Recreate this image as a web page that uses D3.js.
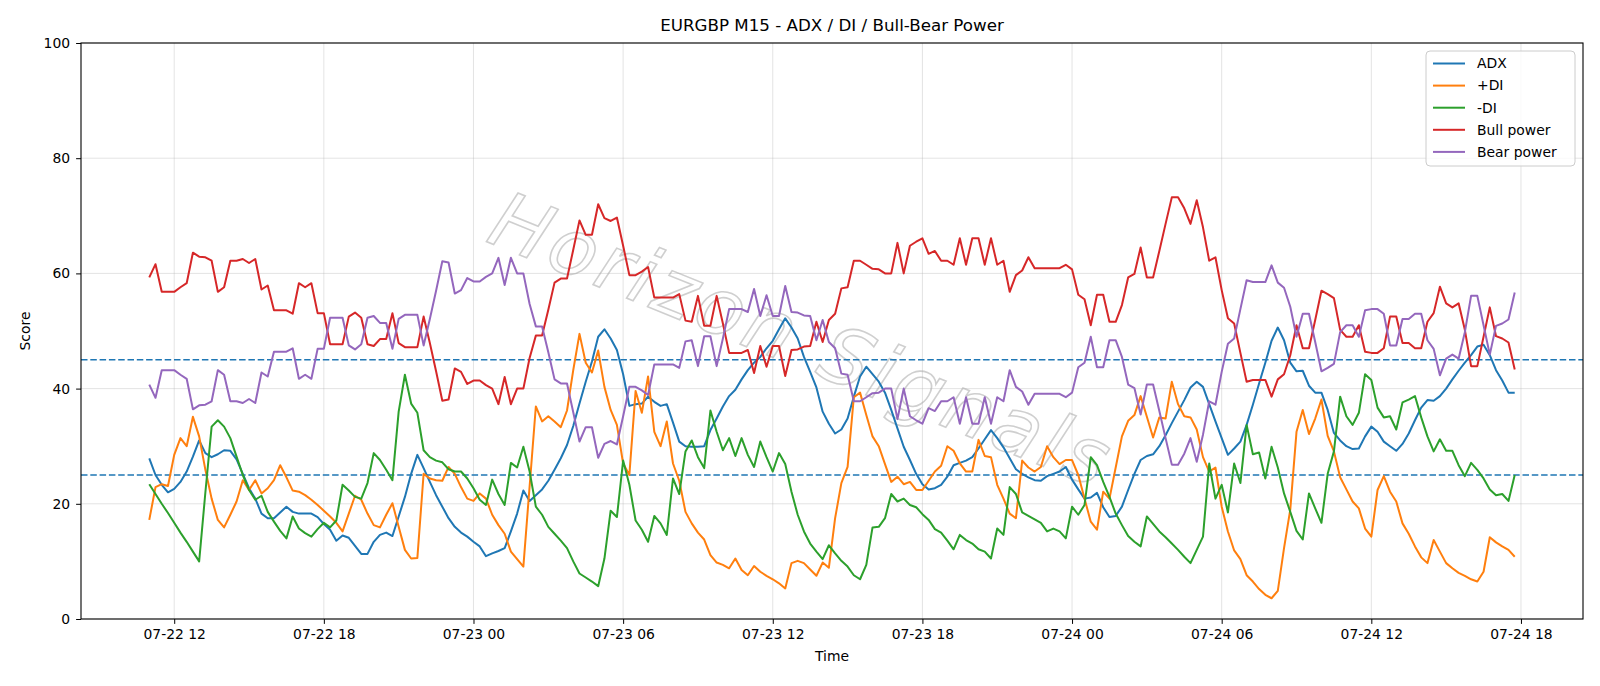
<!DOCTYPE html>
<html>
<head>
<meta charset="utf-8">
<script src="https://cdn.jsdelivr.net/npm/d3@7"></script>
<style>
    body { margin: 0; background: #fff; }
    svg { font-family: "DejaVu Sans", sans-serif; }
</style>
</head>
<body>
<svg id="chart" width="1600" height="686"></svg>
<script>
// first bar and bar length (M15)
const startTime = new Date(2025, 6, 22, 11, 0);
const barMinutes = 15;

const adx = [
    27.9, 25.0, 23.3, 22.0, 22.6, 23.8, 25.6, 28.2, 31.0, 28.8,
    28.1, 28.6, 29.3, 29.2, 27.7, 25.2, 22.7, 20.9, 18.3, 17.5,
    17.5, 18.5, 19.5, 18.6, 18.3, 18.3, 18.3, 17.7, 16.5, 15.5,
    13.6, 14.5, 14.1, 12.7, 11.3, 11.3, 13.4, 14.6, 15.0, 14.4,
    17.8, 21.2, 25.2, 28.5, 26.2, 23.8, 21.5, 19.5, 17.5, 16.0,
    15.0, 14.3, 13.4, 12.6, 10.9, 11.4, 11.8, 12.3, 15.2, 18.3,
    22.3, 20.5, 21.5, 22.5, 24.0, 25.9, 27.9, 30.2, 33.5, 37.4,
    41.2, 44.7, 49.0, 50.3, 48.7, 46.7, 42.5, 37.0, 37.3, 37.4,
    38.6, 37.7, 37.0, 37.3, 34.1, 30.8, 30.0, 29.9, 29.9, 30.0,
    32.8, 34.8, 36.9, 38.7, 39.8, 41.6, 43.2, 44.5, 45.5, 47.0,
    48.3, 50.3, 52.2, 50.6, 48.7, 45.5, 42.9, 40.2, 36.0, 33.9,
    32.2, 32.9, 34.8, 38.6, 42.1, 43.8, 42.5, 41.2, 39.3, 36.3,
    33.1, 29.9, 27.6, 25.2, 23.4, 22.5, 22.7, 23.3, 24.7, 26.7,
    27.1, 27.5, 28.1, 29.6, 31.2, 32.8, 31.4, 29.8, 27.9, 26.0,
    25.2, 24.6, 24.1, 24.0, 24.8, 25.2, 25.6, 26.4, 24.2, 22.5,
    20.9, 21.1, 21.9, 19.4, 17.7, 17.9, 19.5, 22.4, 25.2, 27.6,
    28.3, 28.6, 30.0, 31.9, 34.0, 36.0, 38.0, 40.2, 41.2, 40.3,
    37.3, 34.3, 31.4, 28.5, 29.6, 30.8, 33.7, 37.2, 40.9, 44.5,
    48.3, 50.6, 48.4, 44.5, 43.0, 43.1, 40.5, 39.3, 39.3, 36.3,
    32.3, 31.0, 30.0, 29.5, 29.6, 31.7, 33.4, 32.5, 30.8, 30.0,
    29.2, 30.4, 32.2, 34.5, 36.7, 38.0, 37.9, 38.7, 40.0, 41.6,
    43.1, 44.5, 45.8, 47.3, 47.6, 45.8, 43.2, 41.4, 39.3, 39.3
];

const plusDI = [
    17.2, 22.9, 23.4, 23.1, 28.5, 31.4, 30.0, 35.1, 31.7, 25.9,
    20.9, 17.2, 15.9, 18.1, 20.4, 24.1, 22.4, 24.1, 21.8, 22.7,
    24.1, 26.7, 24.6, 22.3, 22.1, 21.5, 20.7, 19.8, 18.8, 17.8,
    16.7, 15.2, 18.3, 21.4, 20.7, 18.3, 16.3, 15.9, 18.1, 20.1,
    16.0, 12.0, 10.5, 10.6, 25.2, 24.4, 24.1, 24.0, 26.4, 25.2,
    22.9, 20.9, 20.5, 21.8, 20.9, 18.1, 16.3, 14.8, 11.7, 10.4,
    9.1, 23.0, 36.9, 34.3, 35.2, 34.3, 33.3, 36.2, 43.2, 49.5,
    44.5, 42.8, 46.6, 40.3, 36.3, 33.7, 27.0, 25.0, 39.6, 35.8,
    42.1, 32.5, 30.0, 34.3, 27.0, 24.0, 18.6, 16.6, 15.0, 13.8,
    11.1, 9.8, 9.4, 8.8, 10.5, 8.5, 7.6, 9.2, 8.2, 7.5,
    6.9, 6.2, 5.3, 9.7, 10.1, 9.7, 8.6, 7.5, 9.8, 8.9,
    17.5, 23.6, 26.4, 38.5, 39.3, 35.4, 31.7, 30.0, 26.9, 23.8,
    24.7, 23.4, 23.8, 22.4, 22.4, 24.0, 25.6, 26.6, 30.0, 29.2,
    27.0, 25.6, 25.6, 31.1, 28.3, 28.1, 23.3, 20.9, 18.3, 17.5,
    27.5, 26.3, 25.6, 26.4, 30.0, 28.1, 26.9, 27.6, 27.6, 25.0,
    20.9, 16.9, 15.5, 22.1, 20.9, 26.3, 31.7, 34.4, 35.4, 38.7,
    35.1, 31.5, 35.0, 34.8, 41.2, 37.3, 35.2, 35.0, 32.9, 28.1,
    25.6, 26.3, 19.5, 15.2, 11.9, 10.4, 7.6, 6.5, 5.2, 4.2,
    3.6, 4.9, 12.3, 19.0, 32.5, 36.3, 32.1, 34.8, 38.1, 31.8,
    29.1, 24.6, 22.5, 20.4, 19.2, 15.7, 14.3, 22.4, 24.8, 22.1,
    20.4, 16.6, 14.8, 12.6, 10.7, 9.7, 13.7, 11.7, 9.7, 8.8,
    8.0, 7.5, 6.9, 6.5, 8.2, 14.2, 13.3, 12.6, 12.0, 10.8
];

const minusDI = [
    23.4, 21.7, 20.0, 18.4, 16.7, 15.0, 13.4, 11.7, 10.0, 22.0,
    33.4, 34.5, 33.4, 31.4, 28.2, 25.0, 22.4, 20.7, 21.4, 18.6,
    16.9, 15.3, 14.0, 17.8, 15.7, 14.9, 14.3, 15.6, 16.7, 15.9,
    17.1, 23.3, 22.3, 21.2, 20.9, 23.6, 28.8, 27.6, 25.9, 24.1,
    36.0, 42.4, 37.4, 35.8, 29.3, 28.1, 27.5, 27.2, 26.0, 25.6,
    25.6, 24.4, 22.7, 20.7, 19.8, 24.2, 21.7, 19.8, 27.1, 26.3,
    29.9, 25.6, 19.5, 18.1, 16.0, 14.8, 13.6, 12.3, 10.0, 7.9,
    7.2, 6.5, 5.7, 10.5, 18.8, 17.7, 27.5, 23.3, 17.1, 15.5,
    13.4, 17.9, 16.6, 14.6, 24.4, 21.7, 29.1, 31.0, 28.1, 26.2,
    36.2, 32.5, 29.3, 31.4, 28.3, 31.4, 28.5, 26.4, 30.8, 28.1,
    25.6, 28.8, 26.9, 22.1, 18.1, 15.2, 13.1, 11.7, 10.4, 12.8,
    11.4, 10.1, 9.1, 7.6, 6.9, 9.4, 15.9, 16.0, 17.5, 21.7,
    20.4, 20.9, 19.8, 19.4, 18.2, 17.2, 15.6, 15.0, 13.6, 12.1,
    14.6, 13.7, 13.1, 12.1, 11.7, 10.5, 15.7, 14.6, 22.9, 21.7,
    18.5, 17.9, 17.3, 16.7, 15.2, 15.7, 15.2, 14.0, 19.5, 18.1,
    19.8, 28.1, 26.7, 23.8, 21.2, 18.3, 16.3, 14.4, 13.4, 12.6,
    17.8, 16.5, 15.2, 14.2, 13.1, 12.0, 10.8, 9.7, 12.0, 14.3,
    27.0, 20.9, 23.3, 18.5, 27.0, 23.6, 33.7, 28.6, 28.9, 24.4,
    29.9, 26.3, 21.8, 18.6, 15.3, 13.8, 21.8, 19.2, 16.7, 25.2,
    29.1, 38.6, 35.2, 33.7, 35.8, 42.5, 41.5, 36.7, 35.0, 35.2,
    32.9, 37.6, 38.1, 38.7, 35.0, 31.7, 29.1, 31.2, 29.2, 29.2,
    26.7, 24.8, 27.1, 25.9, 24.4, 22.5, 21.5, 21.7, 20.5, 25.0
];

const bullPower = [
    59.3, 61.6, 56.8, 56.8, 56.8, 57.6, 58.3, 63.6, 62.9, 62.8,
    62.2, 56.8, 57.6, 62.2, 62.2, 62.5, 61.8, 62.5, 57.2, 57.9,
    53.6, 53.6, 53.6, 53.0, 58.3, 57.6, 58.3, 53.1, 53.1, 47.7,
    47.7, 47.7, 52.5, 53.2, 52.3, 47.7, 47.4, 48.6, 48.6, 53.1,
    47.9, 47.2, 47.2, 47.2, 52.5, 47.9, 43.0, 37.9, 38.1, 43.5,
    42.9, 40.8, 41.4, 41.4, 40.6, 40.0, 37.3, 42.0, 37.3, 40.0,
    40.0, 45.3, 49.2, 49.2, 53.7, 58.4, 59.1, 59.1, 64.1, 69.2,
    66.7, 66.7, 72.0, 69.6, 69.1, 69.7, 64.8, 59.7, 59.7, 60.3,
    61.1, 55.8, 55.8, 55.8, 55.8, 56.4, 51.8, 51.6, 56.1, 50.9,
    50.9, 56.1, 51.3, 46.2, 46.2, 46.2, 46.7, 42.7, 47.4, 43.8,
    47.4, 47.4, 42.2, 46.7, 46.8, 47.3, 47.4, 51.6, 48.1, 51.9,
    53.0, 57.4, 57.6, 62.2, 62.2, 61.5, 60.8, 60.7, 60.0, 60.0,
    65.3, 60.0, 64.8, 65.5, 66.1, 63.4, 63.9, 62.2, 62.2, 61.5,
    66.1, 61.5, 66.1, 66.1, 61.5, 66.1, 61.5, 62.2, 56.8, 59.7,
    60.5, 62.8, 60.9, 60.9, 60.9, 60.9, 60.9, 61.5, 60.7, 56.3,
    55.5, 51.0, 56.3, 56.3, 51.6, 51.6, 54.5, 59.3, 59.9, 64.5,
    59.3, 59.3, 63.9, 68.6, 73.2, 73.2, 71.3, 68.6, 72.7, 68.0,
    62.2, 62.8, 57.1, 52.2, 51.3, 46.2, 41.2, 41.5, 41.5, 41.5,
    38.6, 41.6, 42.5, 45.8, 51.0, 47.0, 47.0, 51.9, 57.0, 56.4,
    55.7, 50.2, 49.0, 49.0, 51.0, 46.4, 46.2, 46.2, 47.0, 52.5,
    52.5, 47.9, 47.9, 47.0, 47.0, 51.6, 53.1, 57.7, 54.8, 54.1,
    54.8, 50.2, 43.9, 43.9, 49.0, 54.1, 49.1, 48.7, 48.0, 43.3
];

const bearPower = [
    40.7, 38.4, 43.2, 43.2, 43.2, 42.4, 41.7, 36.4, 37.1, 37.2,
    37.8, 43.2, 42.4, 37.8, 37.8, 37.5, 38.2, 37.5, 42.8, 42.1,
    46.4, 46.4, 46.4, 47.0, 41.7, 42.4, 41.7, 46.9, 46.9, 52.3,
    52.3, 52.3, 47.5, 46.8, 47.7, 52.3, 52.6, 51.4, 51.4, 46.9,
    52.1, 52.8, 52.8, 52.8, 47.5, 52.1, 57.0, 62.1, 61.9, 56.5,
    57.1, 59.2, 58.6, 58.6, 59.4, 60.0, 62.7, 58.0, 62.7, 60.0,
    60.0, 54.7, 50.8, 50.8, 46.3, 41.6, 40.9, 40.9, 35.9, 30.8,
    33.3, 33.3, 28.0, 30.4, 30.9, 30.3, 35.2, 40.3, 40.3, 39.7,
    38.9, 44.2, 44.2, 44.2, 44.2, 43.6, 48.2, 48.4, 43.9, 49.1,
    49.1, 43.9, 48.7, 53.8, 53.8, 53.8, 53.3, 57.3, 52.6, 56.2,
    52.6, 52.6, 57.8, 53.3, 53.2, 52.7, 52.6, 48.4, 51.9, 48.1,
    47.0, 42.6, 42.4, 37.8, 37.8, 38.5, 39.2, 39.3, 40.0, 40.0,
    34.7, 40.0, 35.2, 34.5, 33.9, 36.6, 36.1, 37.8, 37.8, 38.5,
    33.9, 38.5, 33.9, 33.9, 38.5, 33.9, 38.5, 37.8, 43.2, 40.3,
    39.5, 37.2, 39.1, 39.1, 39.1, 39.1, 39.1, 38.5, 39.3, 43.7,
    44.5, 49.0, 43.7, 43.7, 48.4, 48.4, 45.5, 40.7, 40.1, 35.5,
    40.7, 40.7, 36.1, 31.4, 26.8, 26.8, 28.7, 31.4, 27.3, 32.0,
    37.8, 37.2, 42.9, 47.8, 48.7, 53.8, 58.8, 58.5, 58.5, 58.5,
    61.4, 58.4, 57.5, 54.2, 49.0, 53.0, 53.0, 48.1, 43.0, 43.6,
    44.3, 49.8, 51.0, 51.0, 49.0, 53.6, 53.8, 53.8, 53.0, 47.5,
    47.5, 52.1, 52.1, 53.0, 53.0, 48.4, 46.9, 42.3, 45.2, 45.9,
    45.2, 49.8, 56.1, 56.1, 51.0, 45.9, 50.9, 51.3, 52.0, 56.7
];

const seriesNames = ["ADX", "+DI", "-DI", "Bull power", "Bear power"];
const seriesValues = [adx, plusDI, minusDI, bullPower, bearPower];
const seriesColors = ["#1f77b4", "#ff7f0e", "#2ca02c", "#d62728", "#9467bd"];
const thresholds = [25, 45];
const yTicks = [0, 20, 40, 60, 80, 100];

const times = adx.map((d, i) => new Date(startTime.getTime() + i * barMinutes * 60000));

const svg = d3.select("#chart");
const margin = {left: 81, right: 1583, top: 43, bottom: 619};

// matplotlib style 5% padding on the time axis
const t0 = times[0].getTime(), t1 = times[times.length - 1].getTime();
const pad = (t1 - t0) * 0.05;
const x = d3.scaleTime()
    .domain([new Date(t0 - pad), new Date(t1 + pad)])
    .range([margin.left, margin.right]);
const y = d3.scaleLinear().domain([0, 100]).range([margin.bottom, margin.top]);

const xTicks = d3.timeHour.every(6).range(x.domain()[0], x.domain()[1]);

// grid
const grid = svg.append("g");
grid.selectAll(".gx")
    .data(xTicks)
    .join("line")
    .attr("x1", d => x(d)).attr("x2", d => x(d))
    .attr("y1", margin.top).attr("y2", margin.bottom)
    .attr("stroke", "#b0b0b0").attr("stroke-opacity", 0.35).attr("stroke-width", 1);
grid.selectAll(".gy")
    .data(yTicks)
    .join("line")
    .attr("x1", margin.left).attr("x2", margin.right)
    .attr("y1", d => y(d)).attr("y2", d => y(d))
    .attr("stroke", "#b0b0b0").attr("stroke-opacity", 0.35).attr("stroke-width", 1);

// watermark
svg.append("text")
    .attr("transform", `translate(800,345) rotate(22)`)
    .attr("text-anchor", "middle")
    .attr("dominant-baseline", "middle")
    .attr("font-size", 78)
    .attr("font-style", "italic")
    .attr("letter-spacing", 4)
    .attr("fill", "none")
    .attr("stroke", "#a0a0a0")
    .attr("stroke-width", 1.6)
    .attr("stroke-opacity", 0.5)
    .text("Horizon Signals");

// threshold lines
svg.selectAll(".thr")
    .data(thresholds)
    .join("line")
    .attr("x1", margin.left).attr("x2", margin.right)
    .attr("y1", d => y(d)).attr("y2", d => y(d))
    .attr("stroke", "#1f77b4").attr("stroke-width", 1.4)
    .attr("stroke-dasharray", "6.5,2.8");

// series
const line = d3.line()
    .x((d, i) => x(times[i]))
    .y(d => y(d));

svg.append("g")
    .selectAll("path")
    .data(seriesValues)
    .join("path")
    .attr("d", d => line(d))
    .attr("fill", "none")
    .attr("stroke", (d, i) => seriesColors[i])
    .attr("stroke-width", 2)
    .attr("stroke-linejoin", "round");

// axes
const xAxis = svg.append("g")
    .attr("transform", `translate(0,${margin.bottom})`)
    .call(d3.axisBottom(x).tickValues(xTicks).tickFormat(d3.timeFormat("%m-%d %H")).tickSize(4.9).tickPadding(5));
const yAxis = svg.append("g")
    .attr("transform", `translate(${margin.left},0)`)
    .call(d3.axisLeft(y).tickValues(yTicks).tickSize(4.9).tickPadding(6));

[xAxis, yAxis].forEach(a => {
    a.select(".domain").remove();
    a.selectAll("line").attr("stroke", "#000").attr("stroke-width", 1);
    a.selectAll("text").attr("font-size", 13.9).attr("fill", "#000")
        .attr("font-family", "DejaVu Sans");
});

// frame
svg.append("rect")
    .attr("x", margin.left).attr("y", margin.top)
    .attr("width", margin.right - margin.left)
    .attr("height", margin.bottom - margin.top)
    .attr("fill", "none").attr("stroke", "#000").attr("stroke-width", 1.1);

// title and labels
svg.append("text")
    .attr("x", (margin.left + margin.right) / 2).attr("y", 31)
    .attr("text-anchor", "middle").attr("font-size", 16.7)
    .text("EURGBP M15 - ADX / DI / Bull-Bear Power");
svg.append("text")
    .attr("x", (margin.left + margin.right) / 2).attr("y", 661)
    .attr("text-anchor", "middle").attr("font-size", 13.9)
    .text("Time");
svg.append("text")
    .attr("transform", `translate(30,${(margin.top + margin.bottom) / 2}) rotate(-90)`)
    .attr("text-anchor", "middle").attr("font-size", 13.9)
    .text("Score");

// legend
const legend = svg.append("g").attr("transform", "translate(1426,51)");
legend.append("rect")
    .attr("width", 149).attr("height", 115).attr("rx", 4)
    .attr("fill", "#fff").attr("fill-opacity", 0.8)
    .attr("stroke", "#cccccc").attr("stroke-width", 1);
const item = legend.selectAll(".item")
    .data(seriesNames)
    .join("g")
    .attr("transform", (d, i) => `translate(0,${12.5 + i * 22.1})`);
item.append("line")
    .attr("x1", 7).attr("x2", 39)
    .attr("stroke", (d, i) => seriesColors[i]).attr("stroke-width", 2);
item.append("text")
    .attr("x", 51).attr("dy", "0.35em")
    .attr("font-size", 13.9)
    .text(d => d);
</script>
</body>
</html>
